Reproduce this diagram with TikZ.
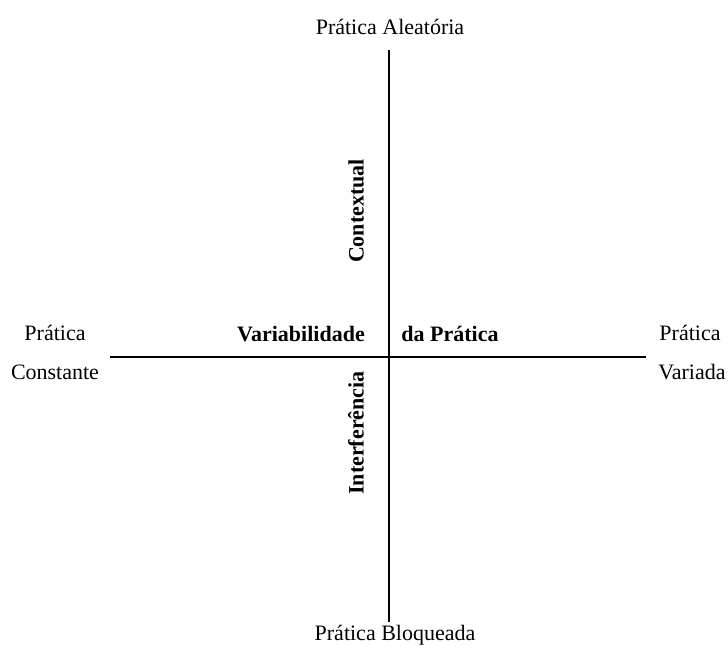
\documentclass[tikz,border=0pt]{standalone}
\usepackage{fontspec}
\setmainfont{Liberation Serif}
\tikzset{every picture/.style={line width=1pt}}
\tikzset{lbl/.style={inner sep=0.75pt,font=\fontsize{16.5}{19}\selectfont},
  blbl/.style={lbl,font=\fontsize{16.5}{19}\selectfont\bfseries}}

\begin{document}
\begin{tikzpicture}[x=0.75pt,y=0.75pt,yscale=-1,xscale=1]
\useasboundingbox (0,0) rectangle (728,646);

% axis end points
\coordinate (top) at (389,50);
\coordinate (bot) at (389,622);
\coordinate (lft) at (110,357);
\coordinate (rgt) at (646,357);

%Straight Lines
\draw (top) -- (bot) ;
%Straight Lines
\draw (lft) -- (rgt) ;

% Text Node
\node (aleat) at (390,27) [lbl] {Prática Aleatória};
% Text Node
\node (bloq) at (395,635) [lbl] {Prática Bloqueada};
% Text Node
\node (pconst) at (55,333) [lbl] {Prática};
% Text Node
\node (const) at (55,372) [lbl] {Constante};
% Text Node
\node (pvar) at (690,333) [lbl] {Prática};
% Text Node
\node (var) at (692,372) [lbl] {Variada};
% Text Node
\node (vari) at (301,334) [blbl] {Variabilidade};
% Text Node
\node (dapra) at (450,334) [blbl] {da Prática};
% Text Node
\node (cont) at (356,211) [blbl,rotate=90] {Contextual};
% Text Node
\node (interf) at (356,433) [blbl,rotate=90] {Interferência};
\end{tikzpicture}
\end{document}
